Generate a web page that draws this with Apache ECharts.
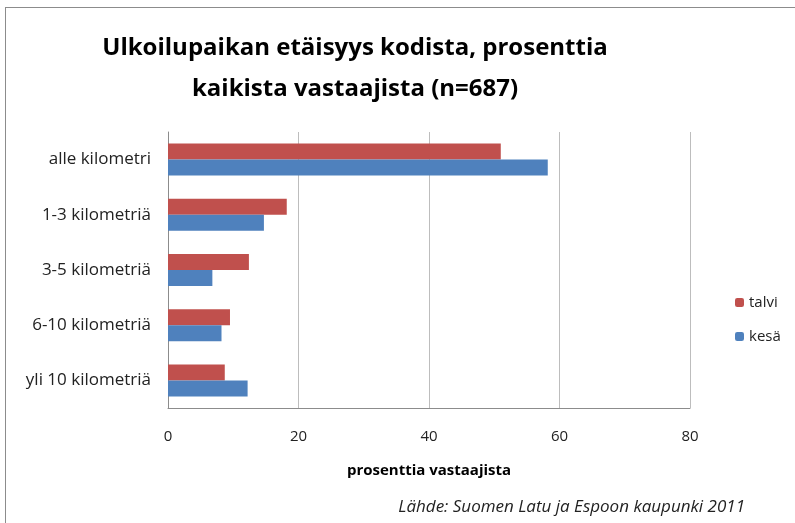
<!DOCTYPE html>
<html>
<head>
<meta charset="utf-8">
<script src="https://cdn.jsdelivr.net/npm/echarts@6/dist/echarts.min.js"></script>
<style>
  html, body { margin: 0; padding: 0; background: #fff; }
  #frame { position: absolute; left: 5px; top: 7px; width: 800px; height: 520px; border: 1px solid #8c8c8c; box-sizing: border-box; }
  #chart { width: 795px; height: 523px; }
</style>
</head>
<body>
<div id="frame"></div>
<div id="chart"></div>
<script>
const categories = ['alle kilometri', '1-3 kilometriä', '3-5 kilometriä', '6-10 kilometriä', 'yli 10 kilometriä']
const talvi = [51.0, 18.2, 12.4, 9.5, 8.7]
const kesa = [58.2, 14.7, 6.8, 8.2, 12.2]
const xTicks = [0, 20, 40, 60, 80]

const font = '"Open Sans", "Noto Sans", sans-serif'
const chart = echarts.init(document.getElementById('chart'))

const option = {
  animation: false,
  textStyle: { fontFamily: font },
  title: [{
    text: 'Ulkoilupaikan etäisyys kodista, prosenttia\nkaikista vastaajista (n=687)',
    left: 350,
    top: 23,
    textAlign: 'center',
    textStyle: { fontSize: 24, fontWeight: 'bold', color: '#000', lineHeight: 41, fontFamily: font }
  }, {
    text: 'Lähde: Suomen Latu ja Espoon kaupunki 2011',
    right: 45,
    top: 494,
    textStyle: { fontSize: 17, fontStyle: 'italic', fontWeight: 'normal', color: '#222', fontFamily: font }
  }],
  legend: {
    orient: 'vertical',
    left: 730,
    top: 290,
    itemWidth: 9,
    itemHeight: 9,
    itemGap: 19,
    data: ['talvi', 'kesä'],
    textStyle: { fontSize: 15, color: '#222' }
  },
  grid: { left: 168, right: 105, top: 132, bottom: 115 },
  xAxis: {
    type: 'value',
    min: xTicks[0],
    max: xTicks[xTicks.length - 1],
    interval: 20,
    name: 'prosenttia vastaajista',
    nameLocation: 'middle',
    nameGap: 55,
    nameTextStyle: { fontSize: 15, fontWeight: 'bold', color: '#000' },
    axisLine: { show: true, lineStyle: { color: '#8c8c8c' } },
    axisTick: { show: false },
    axisLabel: { fontSize: 15, color: '#222', margin: 21 },
    splitLine: { show: true, lineStyle: { color: '#bdbdbd' } }
  },
  yAxis: {
    type: 'category',
    inverse: true,
    data: categories,
    axisLine: { show: true, lineStyle: { color: '#8c8c8c' } },
    axisTick: { show: false },
    axisLabel: { fontSize: 17, color: '#222', margin: 17 }
  },
  series: [{
    name: 'talvi',
    type: 'bar',
    data: talvi,
    barWidth: 16,
    barGap: '0%',
    itemStyle: { color: '#c0504d' }
  }, {
    name: 'kesä',
    type: 'bar',
    data: kesa,
    barWidth: 16,
    barGap: '0%',
    itemStyle: { color: '#4f81bd' }
  }]
}

chart.setOption(option)
</script>
</body>
</html>
